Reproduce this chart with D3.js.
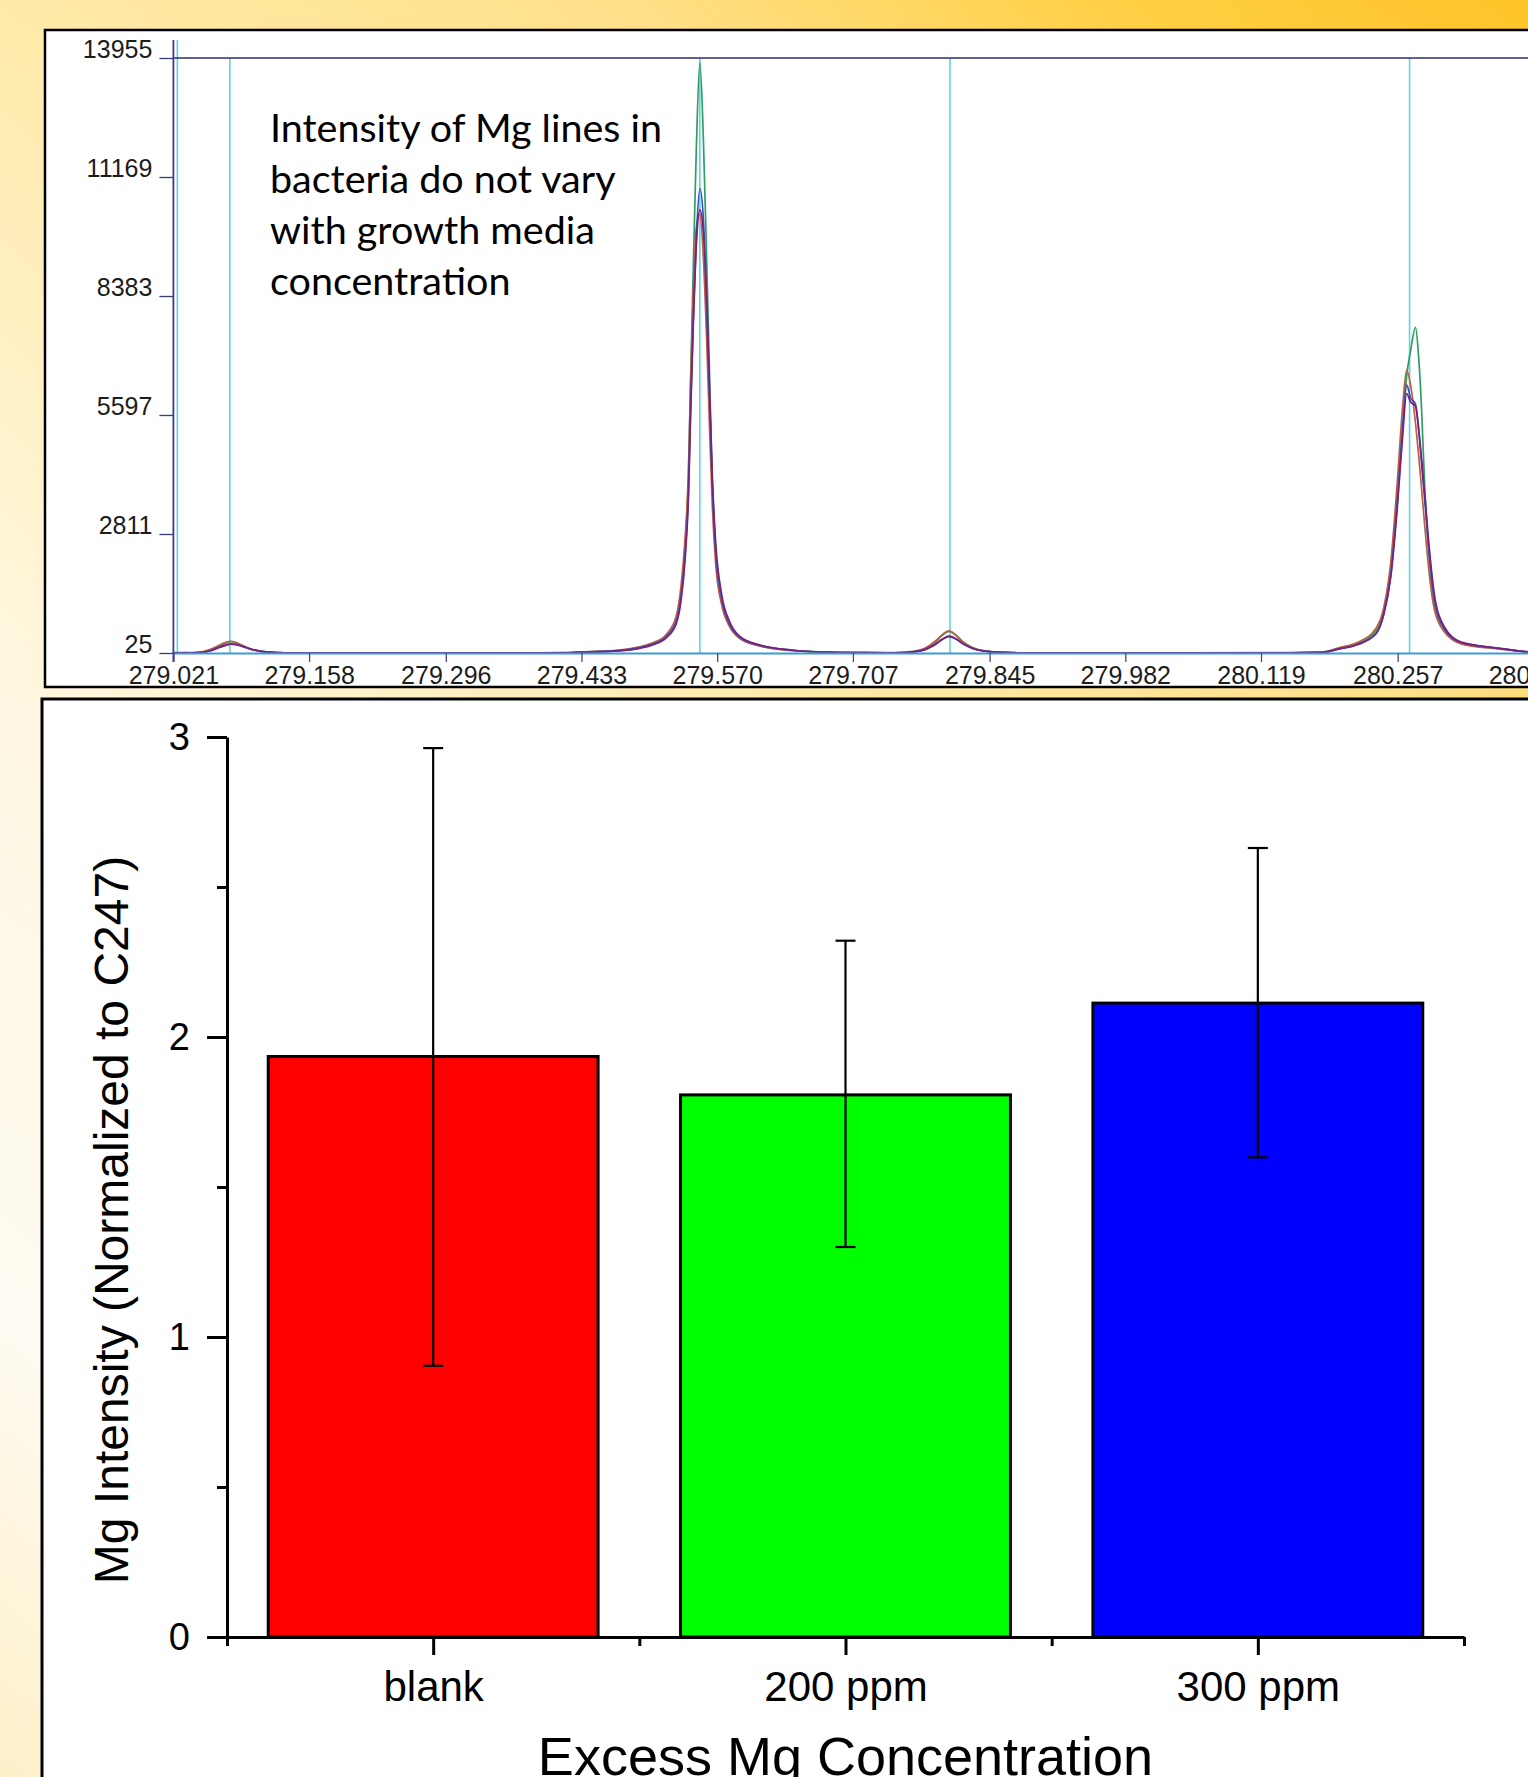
<!DOCTYPE html>
<html lang="en">
<head>
<meta charset="UTF-8">
<title>Mg line intensity vs growth media</title>
<script src="https://d3js.org/d3.v7.min.js"></script>
<style>
    body {
        margin: 0;
        overflow: hidden;
        background: #fff;
    }
    svg { display: block; }
    .spec-axis text {
        font-family: 'Liberation Sans', Arial, sans-serif;
        fill: #1c1c1c;
    }
    .bar-axis text {
        font-family: 'Liberation Sans', Arial, sans-serif;
        fill: #000;
    }
    .note {
        font-family: Lato, 'Open Sans', sans-serif;
        fill: #000;
    }
</style>
</head>
<body>
<div id="chart"></div>
<script>
    // ---------- top panel: spectrum around the Mg II lines ----------
    const specXTicks = [279.021, 279.158, 279.296, 279.433, 279.570, 279.707, 279.845, 279.982, 280.119, 280.257, 280.394];
    const specYTicks = [25, 2811, 5597, 8383, 11169, 13955];
    const markerLines = [279.025, 279.078, 279.5525, 279.805, 280.269];

    const seriesNames = ['green', 'brown', 'blue', 'purple'];
    const seriesColors = ['#2f9e63', '#b9603f', '#3550b8', '#7a2180'];

    // baseline samples between the peaks (nm / counts per series)
    const baseWl = [279.021, 279.035, 279.15, 279.25, 279.35, 279.42, 279.70, 279.74, 279.95, 280.05, 280.15, 280.18, 280.394];
    const baseCounts = [
        [30, 32, 28, 28, 28, 32, 36, 30, 28, 28, 30, 40, 40],
        [32, 34, 30, 30, 30, 34, 38, 32, 30, 30, 32, 44, 42],
        [30, 30, 28, 28, 28, 30, 34, 30, 28, 28, 30, 38, 40],
        [30, 30, 28, 28, 28, 30, 34, 30, 28, 28, 30, 38, 45]
    ];

    // small line near 279.08
    const peak1Center = 279.079;
    const peak1Offsets = [-0.039, -0.029, -0.020, -0.012, -0.005, 0, 0.005, 0.012, 0.020, 0.029, 0.039, 0.055];
    const peak1Counts = [
        [30, 45, 100, 190, 260, 290, 270, 200, 120, 70, 45, 30],
        [35, 55, 115, 205, 275, 300, 270, 195, 115, 65, 42, 30],
        [28, 38, 80, 150, 205, 230, 220, 175, 115, 70, 45, 30],
        [28, 40, 85, 160, 215, 240, 228, 180, 118, 72, 46, 30]
    ];

    // strong line near 279.55
    const peak2Center = 279.5525;
    const peak2Offsets = [-0.120, -0.081, -0.061, -0.047, -0.034, -0.024, -0.019, -0.015, -0.0115, -0.0095, -0.0068, -0.0035,
                          0, 0.0035, 0.0068, 0.0095, 0.0125, 0.016, 0.022, 0.030, 0.040, 0.061, 0.094, 0.135];
    const peak2Counts = [
        [45, 80, 140, 230, 400, 750, 1400, 2500, 4200, 6300, 8900, 11900, 13850, 12100, 9300, 6800, 4100, 2400, 1250, 680, 380, 190, 85, 40],
        [50, 95, 170, 270, 460, 880, 1600, 2700, 4300, 6200, 8400, 10000, 10300, 9300, 7400, 5500, 3500, 2100, 1150, 640, 370, 185, 80, 40],
        [45, 85, 150, 240, 410, 760, 1350, 2300, 3800, 5600, 7700, 9800, 10900, 10200, 8300, 6300, 4000, 2400, 1300, 700, 400, 200, 90, 40],
        [40, 75, 135, 220, 380, 700, 1250, 2200, 3700, 5500, 7600, 9600, 10400, 9900, 8300, 6400, 4200, 2600, 1400, 760, 420, 210, 90, 40]
    ];

    // small line near 279.80
    const peak3Center = 279.804;
    const peak3Offsets = [-0.054, -0.036, -0.024, -0.014, -0.007, 0, 0.007, 0.014, 0.024, 0.036, 0.054, 0.072];
    const peak3Counts = [
        [30, 60, 130, 280, 430, 530, 440, 290, 150, 75, 40, 28],
        [32, 65, 140, 300, 450, 545, 445, 285, 145, 72, 38, 28],
        [28, 50, 105, 220, 335, 410, 350, 240, 130, 68, 38, 28],
        [28, 52, 110, 230, 345, 420, 360, 245, 132, 70, 40, 28]
    ];

    // line near 280.27
    const peak4Center = 280.270;
    const peak4Offsets = [-0.072, -0.054, -0.035, -0.027, -0.020, -0.0135, -0.008, -0.004, 0, 0.005, 0.008, 0.011,
                          0.0143, 0.019, 0.024, 0.034, 0.051, 0.088, 0.118];
    const peak4Counts = [
        [130, 240, 540, 1000, 1950, 3700, 5300, 6500, 7100, 7650, 7000, 5800, 3900, 2200, 1150, 560, 250, 130, 50],
        [150, 270, 600, 1100, 2150, 4000, 5800, 6650, 6300, 5400, 4700, 3900, 3000, 1850, 1050, 520, 240, 120, 50],
        [120, 220, 480, 950, 1850, 3500, 5300, 6300, 6000, 5850, 5300, 4500, 3600, 2300, 1300, 600, 270, 140, 50],
        [120, 220, 470, 930, 1800, 3400, 5100, 6100, 5900, 5800, 5300, 4600, 3750, 2450, 1400, 640, 280, 140, 55]
    ];

    const noteLines = ['Intensity of Mg lines in', 'bacteria do not vary', 'with growth media', 'concentration'];

    // ---------- bottom panel: normalised Mg intensity ----------
    const categories = ['blank', '200 ppm', '300 ppm'];
    const meanValues = [1.935, 1.807, 2.113];
    const errLow = [0.904, 1.300, 1.599];
    const errHigh = [2.963, 2.321, 2.630];
    const barColors = ['#ff0000', '#00ff00', '#0000ff'];
    const barYTicks = [0, 1, 2, 3];
    const barYMinor = [0.5, 1.5, 2.5];

    // ---------- layout ----------
    const W = 1528, H = 1777;
    const layout = {
        topPanel: { x: 45, y: 30, bottom: 687 },
        spec: { left: 173.4, right: 1533.4, top: 58, bottom: 653 },
        botPanel: { x: 42, y: 699 },
        bars: { left: 227, right: 1464, top: 737, bottom: 1637 }
    };

    const svg = d3.select('#chart').append('svg')
        .attr('width', W)
        .attr('height', H);

    // background
    const defs = svg.append('defs');
    const grad = defs.append('linearGradient')
        .attr('id', 'bg')
        .attr('gradientUnits', 'userSpaceOnUse')
        .attr('x1', W).attr('y1', 0).attr('x2', 0).attr('y2', H);
    [[0, '#ffc429'], [0.12, '#ffd046'], [0.25, '#ffe088'], [0.42, '#ffeaa8'],
     [0.65, '#fff7e2'], [0.85, '#fffbf2'], [1, '#fdefc8']]
        .forEach(([o, c]) => grad.append('stop').attr('offset', o).attr('stop-color', c));
    svg.append('rect').attr('width', W).attr('height', H).attr('fill', 'url(#bg)');

    // panel frames
    svg.append('rect')
        .attr('x', layout.topPanel.x).attr('y', layout.topPanel.y)
        .attr('width', W).attr('height', layout.topPanel.bottom - layout.topPanel.y)
        .attr('fill', '#fff').attr('stroke', '#000').attr('stroke-width', 2.5);
    svg.append('rect')
        .attr('x', layout.botPanel.x).attr('y', layout.botPanel.y)
        .attr('width', W).attr('height', H)
        .attr('fill', '#fff').attr('stroke', '#000').attr('stroke-width', 3);

    // ================= spectrum =================
    const xs = d3.scaleLinear().domain([279.021, 280.394]).range([layout.spec.left, layout.spec.right]);
    const ys = d3.scaleLinear().domain([25, 13955]).range([layout.spec.bottom, layout.spec.top]);

    defs.append('clipPath').attr('id', 'spec-clip')
        .append('rect')
        .attr('x', layout.spec.left).attr('y', layout.topPanel.y + 2)
        .attr('width', W).attr('height', layout.topPanel.bottom - layout.topPanel.y - 4);

    const spec = svg.append('g').attr('clip-path', 'url(#spec-clip)');

    // marker lines (cyan)
    spec.selectAll('.mg-line')
        .data(markerLines)
        .join('line')
        .attr('class', 'mg-line')
        .attr('x1', d => xs(d)).attr('x2', d => xs(d))
        .attr('y1', (d, i) => i === 0 ? 40 : ys(13955))
        .attr('y2', ys(25))
        .attr('stroke', '#62d2e2')
        .attr('stroke-width', 1.6);

    // top frame line at full scale
    spec.append('line')
        .attr('x1', xs(279.021)).attr('x2', W)
        .attr('y1', ys(13955)).attr('y2', ys(13955))
        .attr('stroke', '#2d2d6e').attr('stroke-width', 1.5);

    // x axis
    svg.append('g')
        .attr('class', 'spec-axis')
        .attr('transform', `translate(0,${ys(25)})`)
        .call(d3.axisBottom(xs).tickValues(specXTicks).tickSize(9).tickSizeOuter(0).tickPadding(4)
            .tickFormat(d3.format('.3f')))
        .call(g => g.attr('font-size', 25).attr('font-family', null))
        .call(g => g.select('.domain').attr('stroke', '#3d9bd6').attr('stroke-width', 2))
        .call(g => g.selectAll('.tick line').attr('stroke', '#454a80').attr('stroke-width', 1.3));

    // build the four spectra
    const peaks = [
        { center: peak1Center, offsets: peak1Offsets, counts: peak1Counts },
        { center: peak2Center, offsets: peak2Offsets, counts: peak2Counts },
        { center: peak3Center, offsets: peak3Offsets, counts: peak3Counts },
        { center: peak4Center, offsets: peak4Offsets, counts: peak4Counts }
    ];
    const spectra = seriesNames.map((name, s) => {
        const pts = baseWl.map((w, i) => [w, baseCounts[s][i]]);
        peaks.forEach(p => p.offsets.forEach((o, i) => pts.push([p.center + o, p.counts[s][i]])));
        pts.sort((a, b) => a[0] - b[0]);
        return { name, color: seriesColors[s], pts };
    });

    const specLine = d3.line()
        .x(d => xs(d[0]))
        .y(d => ys(d[1]))
        .curve(d3.curveMonotoneX);

    spec.selectAll('.spectrum')
        .data(spectra)
        .join('path')
        .attr('class', 'spectrum')
        .attr('d', d => specLine(d.pts))
        .attr('fill', 'none')
        .attr('stroke', d => d.color)
        .attr('stroke-width', 1.7);

    // y axis
    svg.append('g')
        .attr('class', 'spec-axis')
        .attr('transform', `translate(${layout.spec.left},0)`)
        .call(d3.axisLeft(ys).tickValues(specYTicks).tickSize(14).tickSizeOuter(0).tickPadding(7)
            .tickFormat(d3.format('d')))
        .call(g => g.attr('font-size', 25).attr('font-family', null))
        .call(g => g.select('.domain').remove())
        .call(g => g.selectAll('.tick line').attr('stroke', '#3b3b7a').attr('stroke-width', 1.3))
        .call(g => g.selectAll('.tick text').attr('dy', '-0.04em'));

    svg.append('line')
        .attr('x1', layout.spec.left).attr('x2', layout.spec.left)
        .attr('y1', 40).attr('y2', ys(25) + 9)
        .attr('stroke', '#3a3a95').attr('stroke-width', 1.8);

    // annotation
    svg.append('text')
        .attr('class', 'note')
        .attr('font-size', 39.5)
        .selectAll('tspan')
        .data(noteLines)
        .join('tspan')
        .attr('x', 270)
        .attr('y', (d, i) => 142 + i * 51)
        .text(d => d);

    // ================= bar chart =================
    const xb = d3.scaleBand()
        .domain(categories)
        .range([layout.bars.left, layout.bars.right])
        .paddingInner(0.2)
        .paddingOuter(0.1);
    const xPos = d3.scaleLinear().domain([0, categories.length]).range([layout.bars.left, layout.bars.right]);
    const yb = d3.scaleLinear().domain([0, 3]).range([layout.bars.bottom, layout.bars.top]);

    const bars = svg.append('g');

    bars.selectAll('.bar')
        .data(categories)
        .join('rect')
        .attr('class', 'bar')
        .attr('x', d => xb(d))
        .attr('width', xb.bandwidth())
        .attr('y', (d, i) => yb(meanValues[i]))
        .attr('height', (d, i) => yb(0) - yb(meanValues[i]))
        .attr('fill', (d, i) => barColors[i])
        .attr('stroke', '#000')
        .attr('stroke-width', 3);

    const cx = d => xb(d) + xb.bandwidth() / 2;
    const capW = 10;
    const err = bars.selectAll('.err')
        .data(categories)
        .join('g')
        .attr('class', 'err')
        .attr('stroke', '#000')
        .attr('stroke-width', 2.2);
    err.append('line')
        .attr('x1', cx).attr('x2', cx)
        .attr('y1', (d, i) => yb(errLow[i]))
        .attr('y2', (d, i) => yb(errHigh[i]));
    err.append('line')
        .attr('x1', d => cx(d) - capW).attr('x2', d => cx(d) + capW)
        .attr('y1', (d, i) => yb(errHigh[i])).attr('y2', (d, i) => yb(errHigh[i]));
    err.append('line')
        .attr('x1', d => cx(d) - capW).attr('x2', d => cx(d) + capW)
        .attr('y1', (d, i) => yb(errLow[i])).attr('y2', (d, i) => yb(errLow[i]));

    // x axis: labelled ticks at category centres, short ticks at edges
    svg.append('g')
        .attr('class', 'bar-axis')
        .attr('transform', `translate(0,${layout.bars.bottom})`)
        .call(d3.axisBottom(xPos).tickValues(categories.map((c, i) => i + 0.5))
            .tickFormat((d, i) => categories[i]).tickSize(18).tickSizeOuter(0).tickPadding(16))
        .call(g => g.attr('font-size', 42).attr('font-family', null))
        .call(g => g.selectAll('path, line').attr('stroke', '#000').attr('stroke-width', 3));
    svg.append('g')
        .attr('transform', `translate(0,${layout.bars.bottom})`)
        .call(d3.axisBottom(xPos).tickValues(d3.range(categories.length + 1)).tickFormat('').tickSize(9).tickSizeOuter(0))
        .call(g => g.select('.domain').remove())
        .call(g => g.selectAll('line').attr('stroke', '#000').attr('stroke-width', 3));

    // y axis
    svg.append('g')
        .attr('class', 'bar-axis')
        .attr('transform', `translate(${layout.bars.left},0)`)
        .call(d3.axisLeft(yb).tickValues(barYTicks).tickFormat(d3.format('d')).tickSize(20).tickSizeOuter(0).tickPadding(17))
        .call(g => g.attr('font-size', 38).attr('font-family', null))
        .call(g => g.selectAll('path, line').attr('stroke', '#000').attr('stroke-width', 3));
    svg.append('g')
        .attr('transform', `translate(${layout.bars.left},0)`)
        .call(d3.axisLeft(yb).tickValues(barYMinor).tickFormat('').tickSize(10).tickSizeOuter(0))
        .call(g => g.select('.domain').remove())
        .call(g => g.selectAll('line').attr('stroke', '#000').attr('stroke-width', 3));

    // axis titles
    svg.append('text')
        .attr('transform', `translate(128,${(layout.bars.top + layout.bars.bottom) / 2 + 33}) rotate(-90)`)
        .attr('text-anchor', 'middle')
        .style('font-family', "'Liberation Sans', Arial, sans-serif")
        .style('font-size', '48px')
        .text('Mg Intensity (Normalized to C247)');

    svg.append('text')
        .attr('x', xPos(1.5))
        .attr('y', 1775)
        .attr('text-anchor', 'middle')
        .style('font-family', "'Liberation Sans', Arial, sans-serif")
        .style('font-size', '54px')
        .text('Excess Mg Concentration');
</script>
</body>
</html>
